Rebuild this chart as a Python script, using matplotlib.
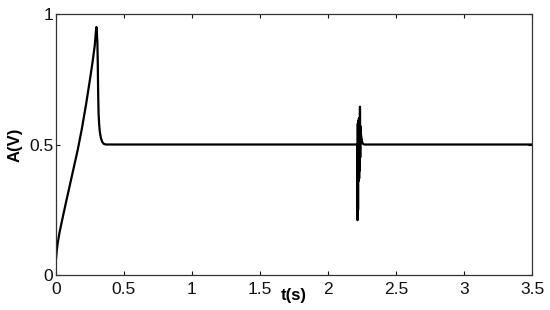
import numpy as np
import matplotlib
matplotlib.use("Agg")
import matplotlib.pyplot as plt

plt.rcParams['font.family'] = ['Liberation Sans', 'DejaVu Sans']

# start-up transient
t_rise = [0, 0.005, 0.012, 0.025, 0.045, 0.07, 0.10, 0.13, 0.16, 0.19, 0.22,
          0.25, 0.27, 0.285, 0.293, 0.297, 0.300, 0.302, 0.304, 0.307, 0.310,
          0.313, 0.317, 0.322, 0.330, 0.340, 0.350, 0.365]
v_rise = [0.06, 0.09, 0.12, 0.16, 0.21, 0.27, 0.34, 0.41, 0.48, 0.56, 0.65,
          0.75, 0.82, 0.88, 0.93, 0.95, 0.94, 0.91, 0.90, 0.82, 0.70,
          0.62, 0.58, 0.55, 0.525, 0.51, 0.503, 0.50]

# disturbance around t = 2.2 s
t_dist = [2.210, 2.215, 2.217, 2.219, 2.221, 2.223, 2.225, 2.227, 2.229,
          2.231, 2.233, 2.235, 2.237, 2.239, 2.242, 2.246, 2.251, 2.258, 2.268]
v_dist = [0.50, 0.50, 0.21, 0.58, 0.25, 0.59, 0.36, 0.60, 0.37, 0.60,
          0.40, 0.645, 0.45, 0.57, 0.54, 0.525, 0.51, 0.502, 0.50]

t_end = 3.5
v_end = 0.50

t = np.array(t_rise + t_dist + [t_end])
v = np.array(v_rise + v_dist + [v_end])

fig = plt.figure(figsize=(5.5, 3.1), dpi=100)
ax = fig.add_axes([0.1018, 0.1129, 0.8655, 0.8419])
ax.plot(t, v, color='black', lw=1.6)

ax.set_xlim(0, 3.5)
ax.set_ylim(0, 1)
ax.set_xticks(np.arange(0, 3.51, 0.5))
ax.set_xticklabels(['0', '0.5', '1', '1.5', '2', '2.5', '3', '3.5'])
ax.set_yticks([0, 0.5, 1])
ax.set_yticklabels(['0', '0.5', '1'])
ax.tick_params(direction='in', length=3, width=0.8, top=True, right=True,
               labelsize=12.5, colors='#111111')
ax.tick_params(axis='x', pad=5)
ax.tick_params(axis='y', pad=2)
for s in ax.spines.values():
    s.set_linewidth(0.9)
    s.set_color('#333333')

ax.set_xlabel('t(s)', fontsize=12, fontweight='bold')
ax.xaxis.set_label_coords(0.5, -0.048, transform=ax.transAxes)
ax.xaxis.label.set_va('top')
ax.set_ylabel('A(V)', fontsize=12, fontweight='bold')
ax.yaxis.set_label_coords(-0.07, 0.5)

fig.savefig('out.png', dpi=100)
